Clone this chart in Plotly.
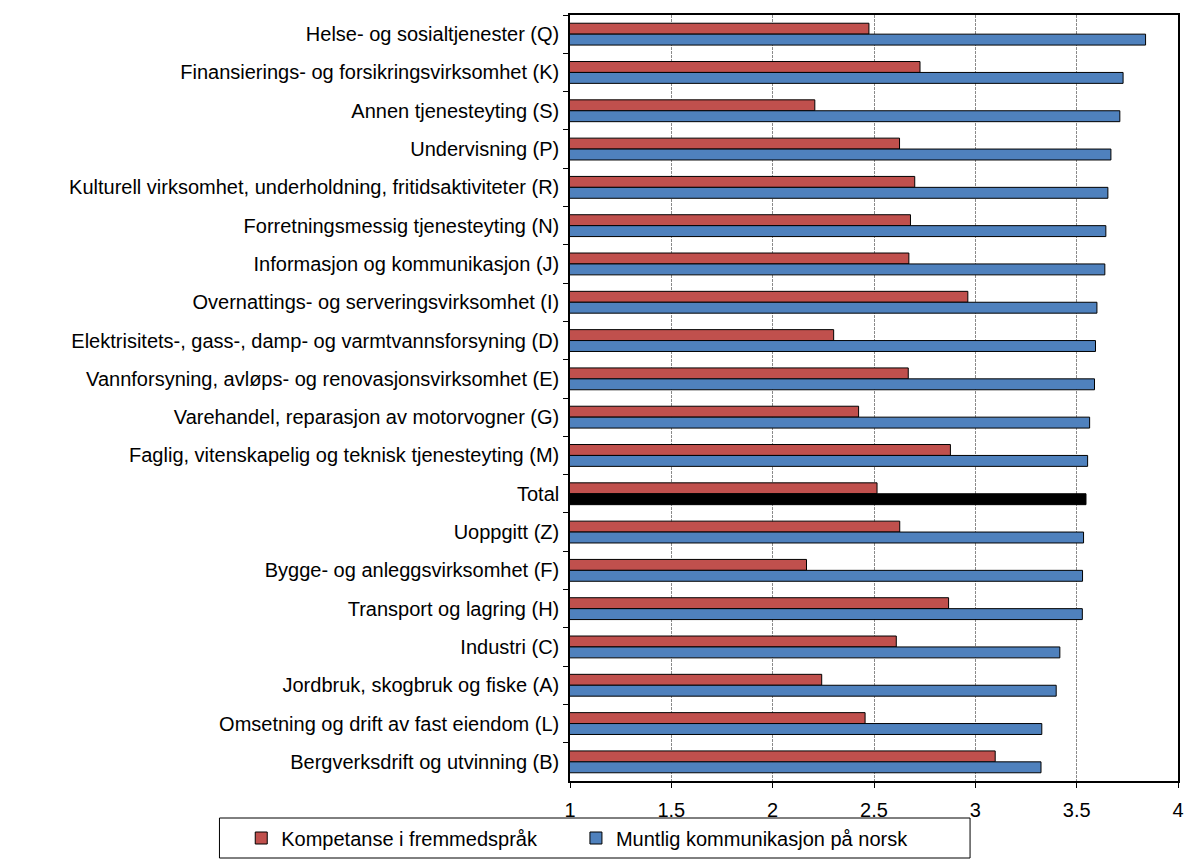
import plotly.graph_objects as go

# Næringer (top to bottom as displayed)
categories = [
    "Helse- og sosialtjenester (Q)",
    "Finansierings- og forsikringsvirksomhet (K)",
    "Annen tjenesteyting (S)",
    "Undervisning (P)",
    "Kulturell virksomhet, underholdning, fritidsaktiviteter (R)",
    "Forretningsmessig tjenesteyting (N)",
    "Informasjon og kommunikasjon (J)",
    "Overnattings- og serveringsvirksomhet (I)",
    "Elektrisitets-, gass-, damp- og varmtvannsforsyning (D)",
    "Vannforsyning, avløps- og renovasjonsvirksomhet (E)",
    "Varehandel, reparasjon av motorvogner (G)",
    "Faglig, vitenskapelig og teknisk tjenesteyting (M)",
    "Total",
    "Uoppgitt (Z)",
    "Bygge- og anleggsvirksomhet (F)",
    "Transport og lagring (H)",
    "Industri (C)",
    "Jordbruk, skogbruk og fiske (A)",
    "Omsetning og drift av fast eiendom (L)",
    "Bergverksdrift og utvinning (B)",
]

kompetanse_fremmedsprak = [
    2.475, 2.727, 2.208, 2.626, 2.701, 2.680, 2.672, 2.963, 2.301, 2.669,
    2.424, 2.877, 2.515, 2.627, 2.167, 2.868, 2.610, 2.242, 2.456, 3.098,
]

muntlig_norsk = [
    3.840, 3.729, 3.713, 3.669, 3.654, 3.644, 3.639, 3.600, 3.593, 3.588,
    3.564, 3.554, 3.546, 3.534, 3.529, 3.528, 3.417, 3.399, 3.328, 3.324,
]

series_names = ["Kompetanse i fremmedspråk", "Muntlig kommunikasjon på norsk"]
x_ticks = [1, 1.5, 2, 2.5, 3, 3.5, 4]

RED = "#C0504D"
BLUE = "#4F81BD"
FONT = "Liberation Sans, Arial, sans-serif"
FS = 20

# The Total row of the Norwegian series is highlighted in black
blue_colors = ["#000000" if c == "Total" else BLUE for c in categories]

W, H = 1190, 863
ML, MR, MT, MB = 570, 6, 15, 82
pw, ph = W - ML - MR, H - MT - MB


def px_x(p):
    return (p - ML) / pw


def px_y(p):
    return (H - MB - p) / ph


fig = go.Figure()
fig.add_trace(go.Bar(
    y=categories, x=kompetanse_fremmedsprak, orientation="h",
    name=series_names[0], legend="legend",
    marker=dict(color=RED, line=dict(color="#000000", width=1)),
))
fig.add_trace(go.Bar(
    y=categories, x=muntlig_norsk, orientation="h",
    name=series_names[1], legend="legend2",
    marker=dict(color=blue_colors, line=dict(color="#000000", width=1)),
))

legend_common = dict(
    orientation="h", xanchor="left", y=px_y(838), yanchor="middle",
    bgcolor="rgba(0,0,0,0)", borderwidth=0, itemwidth=30,
    font=dict(family=FONT, size=FS, color="#000000"),
)

fig.update_layout(
    width=W, height=H,
    margin=dict(l=ML, r=MR, t=MT, b=MB, pad=0),
    paper_bgcolor="white", plot_bgcolor="white",
    barmode="group", bargap=0.43, bargroupgap=0,
    font=dict(family=FONT, size=FS, color="#000000"),
    showlegend=True,
    legend=dict(x=px_x(238), **legend_common),
    legend2=dict(x=px_x(576), **legend_common),
    shapes=[dict(
        type="rect", xref="paper", yref="paper",
        x0=px_x(216), x1=px_x(974), y0=px_y(858), y1=px_y(818),
        line=dict(color="#000000", width=1), fillcolor="rgba(0,0,0,0)",
    )],
)

fig.update_xaxes(
    range=[1, 4], tickvals=x_ticks, ticktext=[f"{v:g}" for v in x_ticks],
    showgrid=True, gridcolor="#8a8a8a", gridwidth=1, griddash="3px,1px",
    showline=True, linecolor="#000000", linewidth=1.5, mirror=True,
    ticks="outside", ticklen=5, tickcolor="#000000", tickwidth=1,
    ticklabelstandoff=5, zeroline=False,
    tickfont=dict(family=FONT, size=FS, color="#000000"),
)
fig.update_yaxes(
    autorange="reversed", type="category",
    showgrid=False,
    showline=True, linecolor="#000000", linewidth=1.5, mirror=True,
    ticks="outside", tickson="boundaries", ticklen=5, tickcolor="#000000",
    tickwidth=1, ticklabelstandoff=5,
    tickfont=dict(family=FONT, size=FS, color="#000000"),
)

fig.write_html("out.html")
